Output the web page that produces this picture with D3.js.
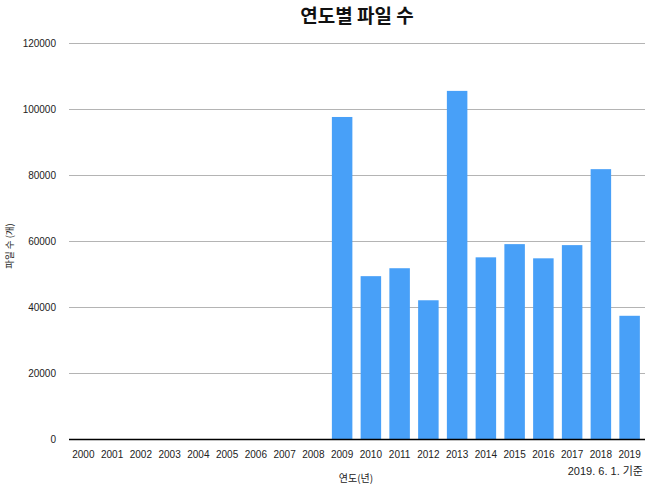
<!DOCTYPE html>
<html><head><meta charset="utf-8">
<script src="https://cdn.jsdelivr.net/npm/d3@7"></script>
<style>
body{margin:0;background:#fff;}
svg{display:block;font-family:"Liberation Sans","Noto Sans CJK KR",sans-serif;}
</style></head>
<body>
<svg id="chart" width="645" height="484"></svg>
<script>
const years = ["2000","2001","2002","2003","2004","2005","2006","2007","2008","2009","2010","2011","2012","2013","2014","2015","2016","2017","2018","2019"];
const fileCounts = [0,0,0,0,0,0,0,0,0,97600,49400,51800,42100,105500,55100,59100,54800,58800,81800,37400];
const yTicks = [0,20000,40000,60000,80000,100000,120000];
const titleText = "연도별 파일 수";
const xTitle = "연도(년)";
const yTitle = "파일 수 (개)";
const noteText = "2019. 6. 1. 기준";

const svg = d3.select("#chart");
const x = d3.scaleBand().domain(years).range([69, 644]).paddingInner(0.287).paddingOuter(0.1435);
const y = d3.scaleLinear().domain([0, 120000]).range([439.3, 43]);

// gridlines
svg.append("g").selectAll("line").data(yTicks.filter(d => d > 0)).join("line")
  .attr("x1", 69).attr("x2", 645)
  .attr("y1", d => Math.round(y(d)) + 0.5).attr("y2", d => Math.round(y(d)) + 0.5)
  .attr("stroke", "#b4b4b4").attr("stroke-width", 1);

// y labels
svg.append("g").selectAll("text").data(yTicks).join("text")
  .attr("x", 56).attr("y", d => y(d) + 3.5)
  .attr("text-anchor", "end").attr("font-size", 10).attr("fill", "#222")
  .text(d => d);

// bars
svg.append("g").selectAll("rect").data(years).join("rect")
  .attr("x", d => x(d)).attr("width", x.bandwidth())
  .attr("y", (d, i) => y(fileCounts[i])).attr("height", (d, i) => y(0) - y(fileCounts[i]))
  .attr("fill", "#48a0f8");

// x axis line
svg.append("line").attr("x1", 69).attr("x2", 645).attr("y1", 439.5).attr("y2", 439.5)
  .attr("stroke", "#000").attr("stroke-width", 1.3);

// x labels
svg.append("g").selectAll("text").data(years).join("text")
  .attr("x", d => x(d) + x.bandwidth() / 2).attr("y", 458)
  .attr("text-anchor", "middle").attr("font-size", 10).attr("fill", "#222")
  .text(d => d);

// title
svg.append("text").attr("x", 357).attr("y", 23)
  .attr("text-anchor", "middle").attr("font-size", 19).attr("font-weight", "bold")
  .attr("font-family", "'Noto Sans CJK KR',sans-serif").attr("fill", "#111")
  .text(titleText);

// x title
svg.append("text").attr("x", 356).attr("y", 482)
  .attr("text-anchor", "middle").attr("font-size", 10)
  .attr("font-family", "'Noto Sans CJK KR',sans-serif").attr("fill", "#222")
  .text(xTitle);

// y title
svg.append("text").attr("transform", "translate(13,246) rotate(-90)")
  .attr("text-anchor", "middle").attr("font-size", 9.5)
  .attr("font-family", "'Noto Sans CJK KR',sans-serif").attr("fill", "#222")
  .text(yTitle);

// note
svg.append("text").attr("x", 643).attr("y", 475)
  .attr("text-anchor", "end").attr("font-size", 11)
  .attr("font-family", "'Liberation Sans','Noto Sans CJK KR',sans-serif").attr("fill", "#222")
  .text(noteText);
</script>
</body></html>
